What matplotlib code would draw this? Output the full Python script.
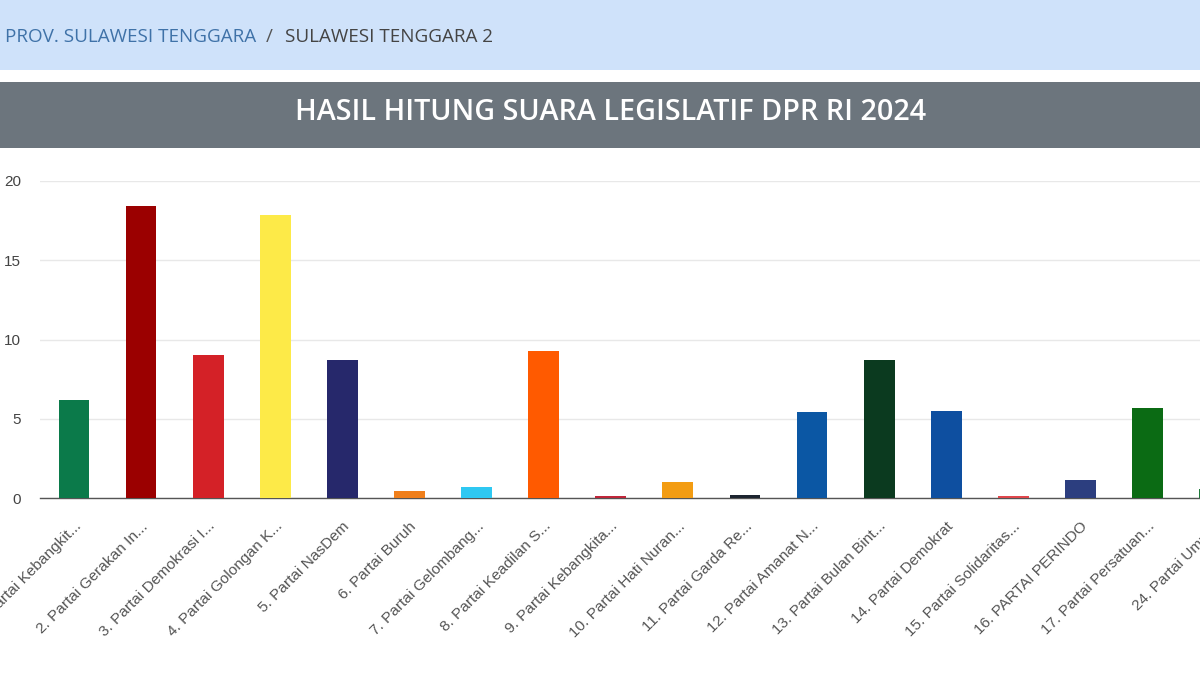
import numpy as np
import matplotlib.pyplot as plt
from matplotlib.patches import Rectangle

# data
partai = ['1. Partai Kebangkit...', '2. Partai Gerakan In...', '3. Partai Demokrasi I...',
          '4. Partai Golongan K...', '5. Partai NasDem', '6. Partai Buruh',
          '7. Partai Gelombang...', '8. Partai Keadilan S...', '9. Partai Kebangkita...',
          '10. Partai Hati Nuran...', '11. Partai Garda Re...', '12. Partai Amanat N...',
          '13. Partai Bulan Bint...', '14. Partai Demokrat', '15. Partai Solidaritas...',
          '16. PARTAI PERINDO', '17. Partai Persatuan...', '24. Partai Ummat']
suara = [6.2, 18.4, 9.05, 17.85, 8.7, 0.48, 0.74, 9.3, 0.17,
         1.05, 0.23, 5.45, 8.7, 5.5, 0.17, 1.15, 5.7, 0.6]
warna = ['#0b7a4a', '#9b0000', '#d42127', '#fdea48', '#26286b', '#f07f1b',
         '#2ec8f2', '#ff5a00', '#c0263a', '#f39c12', '#1c2430', '#0b57a4',
         '#0b3a1f', '#0e4fa0', '#e0474c', '#2c3e7f', '#0b6b14', '#1f7a3a']
yticks = [0, 5, 10, 15, 20]

W, H = 1200, 675
fig = plt.figure(figsize=(12, 6.75), dpi=100)
fig.patch.set_facecolor('white')

# header bands
fig.patches.append(Rectangle((0, 1 - 70 / H), 1, 70 / H, transform=fig.transFigure,
                             facecolor='#cfe2fa', edgecolor='none', zorder=0))
fig.patches.append(Rectangle((0, 1 - 148 / H), 1, 66 / H, transform=fig.transFigure,
                             facecolor='#6c757d', edgecolor='none', zorder=0))

fig.text(5 / W, 1 - 37 / H, 'PROV. SULAWESI TENGGARA', family='Open Sans', fontsize=13.6,
         color='#3f72a8', ha='left', va='center')
fig.text(266 / W, 1 - 37 / H, '/', family='Open Sans', fontsize=13.6,
         color='#555555', ha='left', va='center')
fig.text(285 / W, 1 - 37 / H, 'SULAWESI TENGGARA 2', family='Open Sans', fontsize=13.6,
         color='#444444', ha='left', va='center')
fig.text(611 / W, 1 - 112 / H, 'HASIL HITUNG SUARA LEGISLATIF DPR RI 2024',
         family='Open Sans', fontsize=20.7, fontweight='semibold', color='white',
         ha='center', va='center')

# chart area (runs past the right edge, like the cropped screenshot)
left, right = 40.4, 40.4 + 18 * 67.1
bottom, top = 498.3, 181
ax = fig.add_axes([left / W, 1 - bottom / H, (right - left) / W, (bottom - top) / H])
x = np.arange(len(partai))
ax.bar(x, suara, width=0.46, color=warna, zorder=3)
ax.set_xlim(-0.5, len(partai) - 0.5)
ax.set_ylim(0, 20)
ax.set_yticks(yticks)
ax.set_yticklabels([str(v) for v in yticks], family='Liberation Sans', fontsize=11, color='#444444')
ax.set_xticks(x)
ax.set_xticklabels(partai, rotation=45, ha='right', rotation_mode='anchor',
                   family='Liberation Sans', fontsize=11.1, color='#555555')
ax.tick_params(axis='both', length=0)
ax.tick_params(axis='x', pad=15)
ax.tick_params(axis='y', pad=14)
ax.grid(axis='y', color='#e8e8e8', linewidth=1, zorder=0)
for s in ['top', 'right', 'left']:
    ax.spines[s].set_visible(False)
ax.spines['bottom'].set_color('#555555')
ax.spines['bottom'].set_linewidth(1)

fig.savefig('out.png', dpi=100)
